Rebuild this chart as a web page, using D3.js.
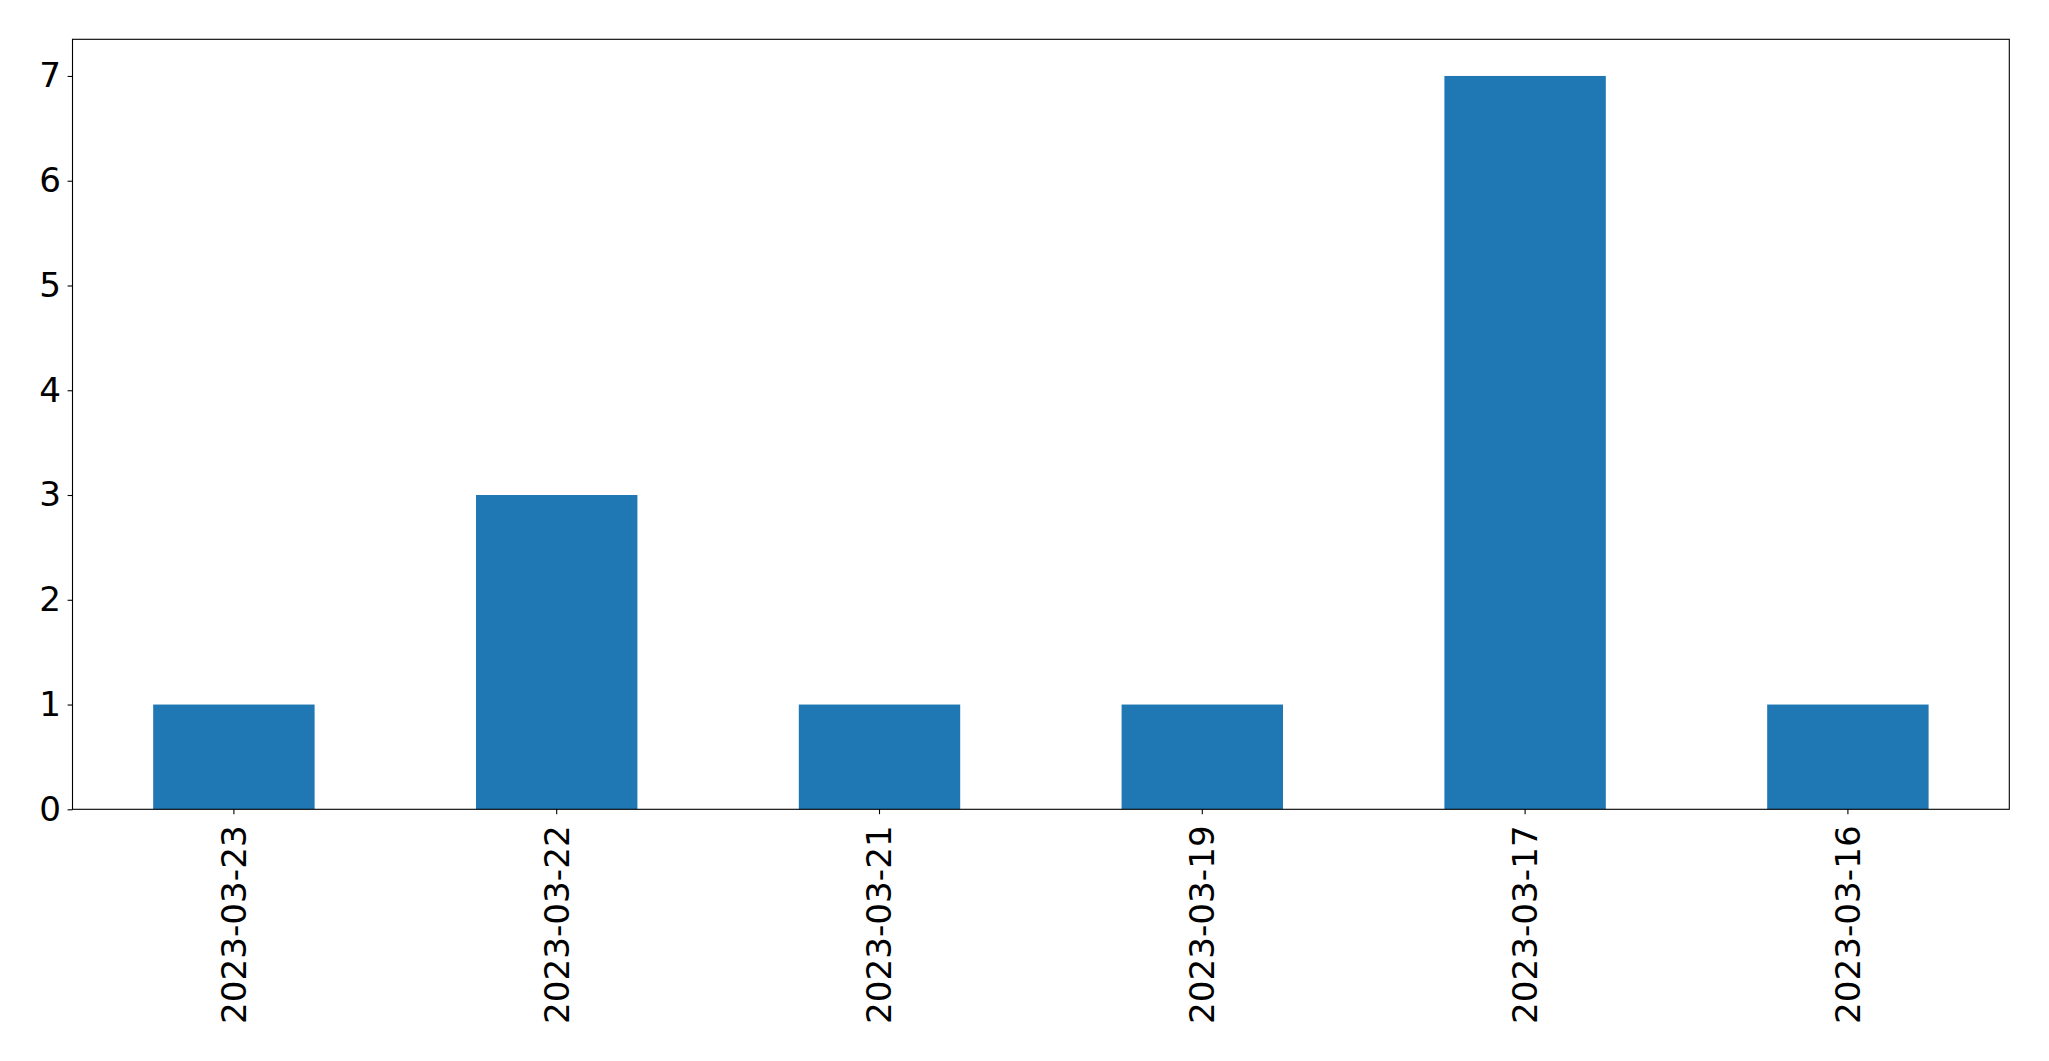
<!DOCTYPE html>
<html><head><meta charset="utf-8">
<script src="https://cdn.jsdelivr.net/npm/d3@7"></script>
<style>body{margin:0;background:#fff}svg{display:block}</style>
</head><body>
<script>
const categories = ["2023-03-23","2023-03-22","2023-03-21","2023-03-19","2023-03-17","2023-03-16"];
const values = [1,3,1,1,7,1];
const yTicks = [0,1,2,3,4,5,6,7];

const W=2049,H=1061;
const m={left:72.5,top:39.3,right:2049-2009.3,bottom:1061-809.3};
const svg=d3.select("body").append("svg").attr("width",W).attr("height",H);
const x=d3.scaleBand().domain(categories).range([m.left,W-m.right]).paddingInner(0.5).paddingOuter(0.25);
const y=d3.scaleLinear().domain([0,7*1.05]).range([H-m.bottom,m.top]);
const font="DejaVu Sans";
const fs=34.2;

svg.append("g").selectAll("rect").data(values).join("rect")
 .attr("x",(d,i)=>x(categories[i])).attr("width",x.bandwidth())
 .attr("y",d=>y(d)).attr("height",d=>y(0)-y(d)).attr("fill","#1f77b4");

const xa=svg.append("g").attr("transform",`translate(0,${H-m.bottom})`)
 .call(d3.axisBottom(x).tickSize(4.9).tickPadding(4.9));
xa.select(".domain").remove();
xa.selectAll("line").attr("stroke","#000").attr("stroke-width",1.1);
xa.selectAll("text").attr("font-family",font).attr("font-size",fs).attr("fill","#000")
 .attr("transform","rotate(-90)").attr("text-anchor","end").attr("x",-16).attr("y",0).attr("dy","0.35em");

const ya=svg.append("g").attr("transform",`translate(${m.left},0)`)
 .call(d3.axisLeft(y).tickValues(yTicks).tickFormat(d3.format("d")).tickSize(4.9).tickPadding(6.5));
ya.select(".domain").remove();
ya.selectAll("line").attr("stroke","#000").attr("stroke-width",1.1);
ya.selectAll("text").attr("font-family",font).attr("font-size",fs).attr("fill","#000");

svg.append("rect").attr("x",m.left).attr("y",m.top).attr("width",W-m.left-m.right).attr("height",H-m.top-m.bottom)
 .attr("fill","none").attr("stroke","#000").attr("stroke-width",1.1);
</script>
</body></html>
